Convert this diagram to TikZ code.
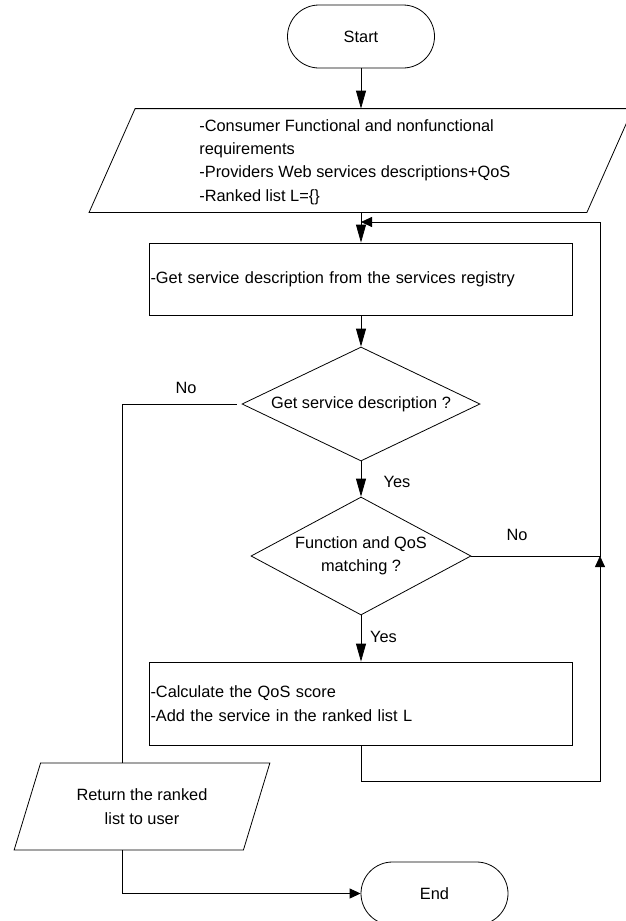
\documentclass[tikz,border=0pt]{standalone}
\usepackage{fontspec}
\setmainfont{Liberation Sans}
\usetikzlibrary{shapes.geometric,arrows.meta}
\begin{document}
\begin{tikzpicture}[x=1pt,y=-1pt,
  font=\fontsize{16.35}{23.3}\selectfont,
  line width=0.8pt,
  term/.style={draw, rectangle, rounded corners=31.5pt, minimum width=147pt, minimum height=63pt, inner sep=0pt},
  io/.style={draw, trapezium, trapezium left angle=65.9, trapezium right angle=114.1, trapezium stretches=true, inner sep=2pt},
  proc/.style={draw, rectangle, minimum width=423pt, text width=421pt, inner sep=1pt, align=left},
  decide/.style={draw, diamond, inner sep=0pt, align=center},
  down/.style={-{Triangle[length=18pt,width=10pt]}},
  side/.style={-{Triangle[length=11pt,width=10pt]}},
  lbl/.style={inner sep=0pt}
]
\useasboundingbox (0,0) rectangle (625,921);
\node[term] (start) at (361,36.5) {Start};
\node[inner sep=0pt, minimum width=497pt, minimum height=103pt] (in1) at (361,160.5) {};
\draw ([xshift=-23pt]in1.south west) -- ([xshift=23pt]in1.north west) -- ([xshift=23pt]in1.north east) -- ([xshift=-23pt]in1.south east) -- cycle;
\node[anchor=west, align=left, inner sep=0pt] (in1t) at (199,162) {-Consumer Functional and nonfunctional\\requirements\\-Providers Web services descriptions+QoS\\-Ranked list L=\{\}};
\node[proc, minimum height=72pt] (get) at (361,279) {-Get service description from the services registry};
\node[decide, shape aspect=2.09, minimum width=238pt, minimum height=114pt] (d1) at (361,404) {Get service description ?};
\node[decide, shape aspect=1.86, minimum width=220pt, minimum height=118pt] (d2) at (361,556) {Function and QoS\\matching ?};
\node[proc, minimum height=83pt] (calc) at (361,703.5) {-Calculate the QoS score\\-Add the service in the ranked list L};
\node[io, minimum width=256pt, minimum height=87pt, align=center] (ret) at (142,806.5) {Return the ranked\\list to user};
\node[term] (end) at (434.5,893.5) {End};

\node[lbl] (no1) at (186,388) {No};
\node[lbl] (yes1) at (397,482) {Yes};
\node[lbl] (no2) at (517,535) {No};
\node[lbl] (yes2) at (383.5,637) {Yes};

\coordinate (join) at (361,222);
\coordinate (r) at (600,556);
\coordinate (rt) at (600,222);
\coordinate (lb) at (361,781);
\coordinate (rb) at (600,781);
\coordinate (l1) at (122,404);

\draw[down] (start.south) -- (in1.north);
\draw[down] (in1.south) -- (get.north);
\draw[down] (get.south) -- (d1.north);
\draw[down] (d1.south) -- (d2.north);
\draw[down] (d2.south) -- (calc.north);
\draw[side] (d2.east) -- (r) -- (rt) -- (join);
\draw[side] (calc.south) -- (lb) -- (rb) -- (r);
\draw[shorten <=5pt] (d1.west) -- (l1) -- (l1 |- ret.north);
\draw[side] (l1 |- ret.south) |- (end.west);
\end{tikzpicture}
\end{document}
